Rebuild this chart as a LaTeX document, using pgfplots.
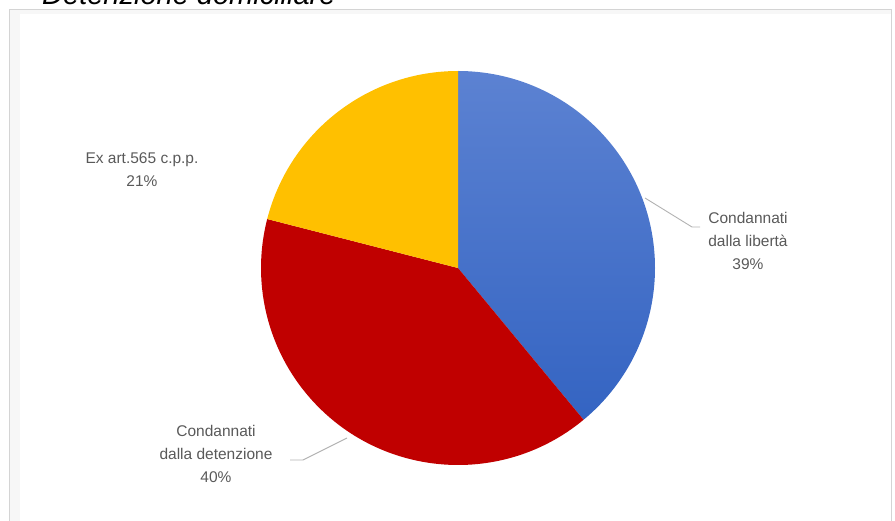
\documentclass[border=0pt]{standalone}
\usepackage{pgfplots}
\pgfplotsset{compat=1.18}
\usepackage{pgfplotstable}
\usepackage{fontspec}
\setmainfont{Liberation Sans}
\definecolor{pieblueT}{RGB}{92,130,210}
\definecolor{pieblueB}{RGB}{52,100,194}
\definecolor{piered}{RGB}{192,0,0}
\definecolor{pieyellow}{RGB}{255,192,0}
\definecolor{labgray}{RGB}{89,89,89}
\definecolor{framegray}{RGB}{212,212,212}

% share of each slice (percent), clockwise from 12 o'clock
\pgfplotstableread{
idx value
0 39
1 40
2 21
}\piedata

\begin{document}
\begin{tikzpicture}
\useasboundingbox (0,0) rectangle (895pt,520pt);
\clip (0,0) rectangle (895pt,520pt);
\begin{axis}[
  width=895pt, height=520pt, scale only axis,
  xmin=0, xmax=895, ymin=0, ymax=520,
  hide axis, clip=false,
]
\pgfplotstablegetelem{0}{value}\of\piedata \let\vA\pgfplotsretval
\pgfplotstablegetelem{1}{value}\of\piedata \let\vB\pgfplotsretval
\pgfplotstablegetelem{2}{value}\of\piedata \let\vC\pgfplotsretval
\pgfmathsetmacro{\aA}{90}
\pgfmathsetmacro{\aB}{\aA-3.6*\vA}
\pgfmathsetmacro{\aC}{\aB-3.6*\vB}
\pgfmathsetmacro{\aD}{\aC-3.6*\vC}
\def\R{197pt}
% frame
\fill[black!3] (axis cs:10,510) rectangle (axis cs:20,-10);
\fill[black!3] (axis cs:10,510) rectangle (axis cs:891,506);
\draw[framegray, line width=1.3pt] (axis cs:9.5,-10) -- (axis cs:9.5,510.5) -- (axis cs:891.5,510.5) -- (axis cs:891.5,-10);
% title (cut off at top)
\node[anchor=base west, inner sep=0pt, font=\fontsize{29}{34}\selectfont\itshape] at (axis cs:42,515) {Detenzione domiciliare};
% slices
\shade[top color=pieblueT, bottom color=pieblueB] (axis cs:458,252) -- ++(\aA:\R) arc[start angle=\aA, end angle=\aB, radius=\R] -- cycle;
\fill[piered] (axis cs:458,252) -- ++(\aB:\R) arc[start angle=\aB, end angle=\aC, radius=\R] -- cycle;
\fill[pieyellow] (axis cs:458,252) -- ++(\aC:\R) arc[start angle=\aC, end angle=\aD, radius=\R] -- cycle;
% leader lines
\draw[black!30, line width=0.9pt] (axis cs:645,322) -- (axis cs:692,293) -- (axis cs:700,293);
\draw[black!30, line width=0.9pt] (axis cs:347,82) -- (axis cs:303,60) -- (axis cs:290,60);
% labels
\begin{scope}[every node/.style={align=center, text=labgray, inner sep=0pt, font=\fontsize{15.5}{23}\selectfont}]
\node at (axis cs:142,350.5) {Ex art.565 c.p.p.\\21\%};
\node at (axis cs:748,279.5) {Condannati\\dalla libertà\\39\%};
\node at (axis cs:216,66) {Condannati\\dalla detenzione\\40\%};
\end{scope}
\end{axis}
\end{tikzpicture}
\end{document}
